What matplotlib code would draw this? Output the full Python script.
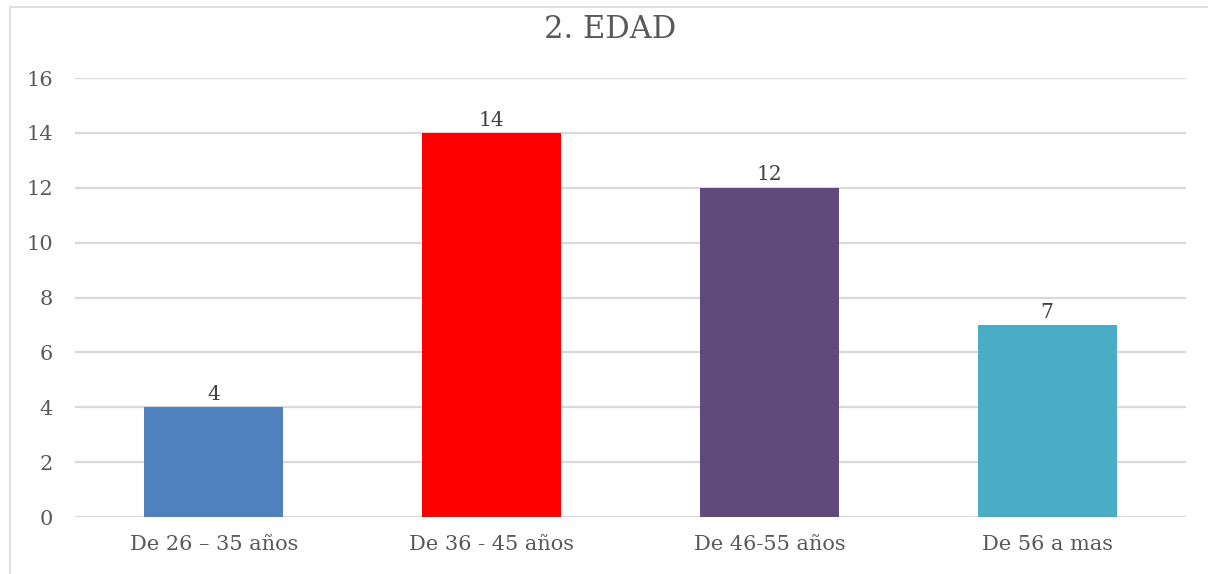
import matplotlib
matplotlib.use("Agg")
import matplotlib.pyplot as plt
from matplotlib.patches import Rectangle

# data
categories = ["De 26 – 35 años", "De 36 - 45 años", "De 46-55 años", "De 56 a mas"]
counts = [4, 14, 12, 7]
bar_colors = ["#4F81BD", "#FF0000", "#604A7B", "#4BACC6"]
yticks = [0, 2, 4, 6, 8, 10, 12, 14, 16]

plt.rcParams["font.family"] = ["DejaVu Serif"]

fig = plt.figure(figsize=(12.08, 5.74), dpi=100)
ax = fig.add_axes([0.0621, 0.0993, 0.9197, 0.7648])

# light outer border of the chart area (bottom runs off the image)
fig.patches.append(Rectangle((10 / 1208, -0.05), 1.0, 1.05 - 7 / 574, transform=fig.transFigure,
                             fill=False, edgecolor="#D9D9D9", linewidth=1.2))

x = list(range(len(categories)))
bars = ax.bar(x, counts, width=0.5, color=bar_colors, zorder=3)
for b, v in zip(bars, counts):
    ax.text(b.get_x() + b.get_width() / 2, v + 0.12, str(v), ha="center", va="bottom",
            fontsize=14.5, color="#404040")

ax.set_xlim(-0.5, len(categories) - 0.5)
ax.set_ylim(0, 16)
ax.set_yticks(yticks)
ax.set_xticks(x)
ax.set_xticklabels(categories)
ax.tick_params(axis="both", length=0, labelsize=15, labelcolor="#595959")
ax.tick_params(axis="y", pad=16)
ax.tick_params(axis="x", pad=13)
ax.grid(axis="y", color="#D9D9D9", linewidth=1.6, zorder=0)
for s in ax.spines.values():
    s.set_visible(False)

fig.text(0.505, 0.948, "2. EDAD", ha="center", va="center", fontsize=22, color="#595959")

fig.savefig("out.png", dpi=100)
